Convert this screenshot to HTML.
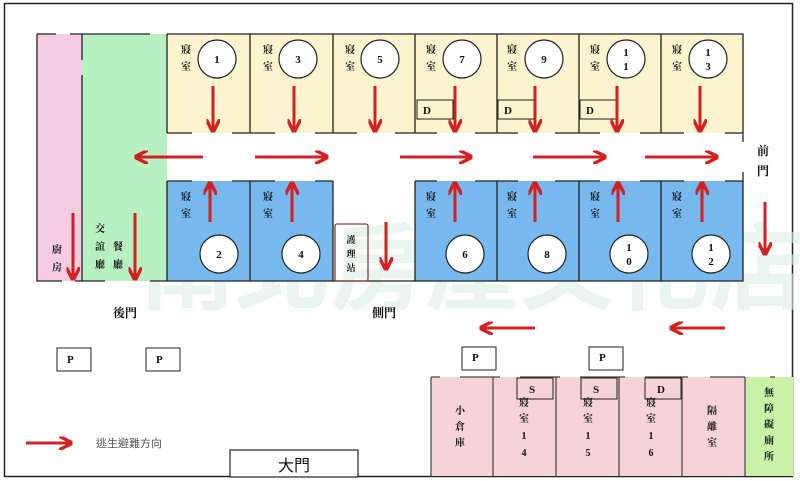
<!DOCTYPE html>
<html><head><meta charset="utf-8"><style>
html,body{margin:0;padding:0;background:#fff;}
svg{display:block;}
text{font-family:"Liberation Serif","Noto Serif CJK SC","Noto Sans CJK TC",serif;font-weight:bold;fill:#111;}
</style></head><body>
<svg width="800" height="481" viewBox="0 0 800 481" xmlns="http://www.w3.org/2000/svg">
<defs>
<marker id="ah" viewBox="0 0 10 10" refX="8" refY="5" markerWidth="4.5" markerHeight="4.5" orient="auto"><path d="M0,0 L10,5 L0,10" fill="none" stroke="#d42020" stroke-width="2.5"/></marker>
</defs>
<rect x="4.5" y="3.5" width="788" height="473" fill="#fff" stroke="#222" stroke-width="1.5"/>
<!-- watermark -->
<text x="140" y="302" font-size="95" style="fill:#dcefe3;font-family:'Liberation Sans','Noto Sans CJK TC',sans-serif" opacity="0.6">南北房屋文化店</text>
<!-- left rooms -->
<rect x="37" y="34" width="45" height="247" fill="#f6cce3"/>
<rect x="82" y="34" width="85" height="247" fill="#b7f0c1"/>
<g stroke="#222" stroke-width="1.3" fill="none">
<path d="M37,34 V281 H62 M75,281 H82 M37,34 H56 M70,34 H82 M82,34 V60 M82,75 V281 H105 M150,34 H82 M150,281 H167"/>
</g>
<rect x="167" y="34" width="576" height="99" fill="#fbf4cf"/>
<rect x="167" y="181" width="166" height="100" fill="#77b9ee"/>
<rect x="415" y="181" width="328" height="100" fill="#77b9ee"/>
<g stroke="#222" stroke-width="1.3" fill="none">
<path d="M167,34 H743 V133"/>
<path d="M167,34 V133 M250,34 V133 M333,34 V133 M415,34 V133 M497,34 V133 M579,34 V133 M661,34 V133"/>
<path d="M167,133 H192 M232,133 H275 M315,133 H357 M395,133 H437 M475,133 H518 M555,133 H600 M640,133 H684 M725,133 H743"/>
<path d="M167,181 V281 H333 V181 M250,181 V281"/>
<path d="M167,181 H192 M232,181 H275 M315,181 H333"/>
<path d="M415,181 V281 H743 V181 M497,181 V281 M579,181 V281 M661,181 V281"/>
<path d="M415,181 H437 M475,181 H518 M555,181 H600 M640,181 H684 M725,181 H743"/>
<path d="M743,133 V142 M743,172 V181"/>
<path d="M333,281 H415"/>
</g>
<rect x="335" y="224" width="33" height="57" fill="none" stroke="#8a3b3b" stroke-width="1.3" rx="2"/>
<text x="351" y="243" font-size="9" text-anchor="middle">護</text>
<text x="351" y="257" font-size="9" text-anchor="middle">理</text>
<text x="351" y="271" font-size="9" text-anchor="middle">站</text>
<g fill="#fbf4cf" stroke="#222" stroke-width="1">
<rect x="417" y="100" width="36" height="19"/><rect x="498" y="100" width="36" height="19"/><rect x="580" y="100" width="36" height="19"/>
</g>
<g font-size="11"><text x="423" y="114">D</text><text x="504" y="114">D</text><text x="586" y="114">D</text></g>
<g fill="#fff" stroke="#222" stroke-width="1.2">
<circle cx="217" cy="59" r="19"/><circle cx="298" cy="59" r="19"/><circle cx="380" cy="59" r="19"/><circle cx="462" cy="59" r="19"/><circle cx="544" cy="59" r="19"/><circle cx="626" cy="59" r="19"/><circle cx="708" cy="59" r="19"/>
<circle cx="219" cy="254" r="19"/><circle cx="301" cy="254" r="19"/><circle cx="465" cy="254" r="19"/><circle cx="547" cy="254" r="19"/><circle cx="629" cy="254" r="19"/><circle cx="711" cy="254" r="19"/>
</g>
<g font-size="11" text-anchor="middle">
<text x="217" y="63">1</text><text x="298" y="63">3</text><text x="380" y="63">5</text><text x="462" y="63">7</text><text x="544" y="63">9</text>
<text x="626" y="56">1</text><text x="626" y="70">1</text><text x="708" y="56">1</text><text x="708" y="70">3</text>
<text x="219" y="258">2</text><text x="301" y="258">4</text><text x="465" y="258">6</text><text x="547" y="258">8</text>
<text x="629" y="251">1</text><text x="629" y="265">0</text><text x="711" y="251">1</text><text x="711" y="265">2</text>
</g>
<g font-size="10" text-anchor="middle">
<text x="186" y="53">寢</text><text x="186" y="70">室</text>
<text x="268" y="53">寢</text><text x="268" y="70">室</text>
<text x="350" y="53">寢</text><text x="350" y="70">室</text>
<text x="431" y="53">寢</text><text x="431" y="70">室</text>
<text x="512" y="53">寢</text><text x="512" y="70">室</text>
<text x="595" y="53">寢</text><text x="595" y="70">室</text>
<text x="677" y="53">寢</text><text x="677" y="70">室</text>
<text x="186" y="200">寢</text><text x="186" y="217">室</text>
<text x="268" y="200">寢</text><text x="268" y="217">室</text>
<text x="431" y="200">寢</text><text x="431" y="217">室</text>
<text x="512" y="200">寢</text><text x="512" y="217">室</text>
<text x="595" y="200">寢</text><text x="595" y="217">室</text>
<text x="677" y="200">寢</text><text x="677" y="217">室</text>
<text x="57" y="253">廚</text><text x="57" y="271">房</text>
<text x="100" y="232">交</text><text x="100" y="250">誼</text><text x="100" y="268">廳</text>
<text x="118" y="250">餐</text><text x="118" y="268">廳</text>
</g>
<g font-size="12">
<text x="763" y="155" text-anchor="middle">前</text><text x="763" y="175" text-anchor="middle">門</text>
<text x="113" y="317">後門</text><text x="372" y="317">側門</text>
</g>
<g stroke="#d42020" stroke-width="3" marker-end="url(#ah)" fill="none">
<path d="M213,86 V130"/><path d="M294,86 V130"/><path d="M375,86 V130"/><path d="M455,86 V130"/><path d="M535,86 V130"/><path d="M617,86 V130"/><path d="M700,86 V130"/>
<path d="M210,222 V184"/><path d="M292,222 V184"/><path d="M455,222 V184"/><path d="M535,222 V184"/><path d="M618,222 V184"/><path d="M702,222 V184"/>
<path d="M203,157 H137"/><path d="M255,157 H326"/><path d="M400,157 H470"/><path d="M533,157 H604"/><path d="M645,157 H716"/>
<path d="M765,202 V253"/><path d="M73,213 V278"/><path d="M135,213 V278"/><path d="M386,222 V268"/>
<path d="M535,328 H482"/><path d="M725,328 H672"/>
<path d="M445,418 V381"/><path d="M507,418 V381"/><path d="M570,418 V381"/><path d="M633,418 V381"/><path d="M697,418 V381"/><path d="M752,418 V381" stroke="#d4401a"/>
<path d="M26,443 H70"/>
</g>
<g fill="#fff" stroke="#222" stroke-width="1">
<rect x="57" y="348" width="34" height="23"/><rect x="146" y="348" width="34" height="23"/><rect x="462" y="347" width="34" height="23"/><rect x="589" y="347" width="34" height="23"/>
</g>
<g font-size="11"><text x="67" y="363">P</text><text x="156" y="363">P</text><text x="472" y="361">P</text><text x="599" y="361">P</text></g>
<rect x="431" y="377" width="314" height="99" fill="#f5d3d6"/>
<rect x="745" y="377" width="48" height="99" fill="#c9f2a6"/>
<g stroke="#444" stroke-width="1.2" fill="none">
<path d="M431,377 V476 M493,377 V476 M556,377 V476 M619,377 V476 M682,377 V476 M745,377 V476"/>
<path d="M431,377 H440 M460,377 H500 M520,377 H560 M580,377 H625 M645,377 H688 M710,377 H745 M770,377 H775"/>
</g>
<g fill="#f5d3d6" stroke="#222" stroke-width="1">
<rect x="517" y="378" width="36" height="21"/><rect x="581" y="378" width="36" height="21"/><rect x="645" y="378" width="36" height="21"/>
</g>
<g font-size="11"><text x="529" y="393">S</text><text x="593" y="393">S</text><text x="657" y="393">D</text></g>
<g font-size="10" text-anchor="middle">
<text x="460" y="414">小</text><text x="460" y="430">倉</text><text x="460" y="446">庫</text>
<text x="524" y="406">寢</text><text x="524" y="422">室</text><text x="524" y="439">1</text><text x="524" y="456">4</text>
<text x="588" y="406">寢</text><text x="588" y="422">室</text><text x="588" y="439">1</text><text x="588" y="456">5</text>
<text x="651" y="406">寢</text><text x="651" y="422">室</text><text x="651" y="439">1</text><text x="651" y="456">6</text>
<text x="712" y="414">隔</text><text x="712" y="430">離</text><text x="712" y="446">室</text>
<text x="769" y="396">無</text><text x="769" y="412">障</text><text x="769" y="428">礙</text><text x="769" y="444">廁</text><text x="769" y="460">所</text>
</g>
<text x="96" y="447" font-size="11" style="font-weight:normal;fill:#555;font-family:'Liberation Sans','Noto Sans CJK TC',sans-serif">逃生避難方向</text>
<rect x="230" y="450" width="128" height="27" fill="#fff" stroke="#222" stroke-width="1.2"/>
<text x="294" y="471" font-size="16" text-anchor="middle" style="font-weight:normal;font-family:'Liberation Sans','Noto Sans CJK TC',sans-serif">大門</text>
</svg>
</body></html>
